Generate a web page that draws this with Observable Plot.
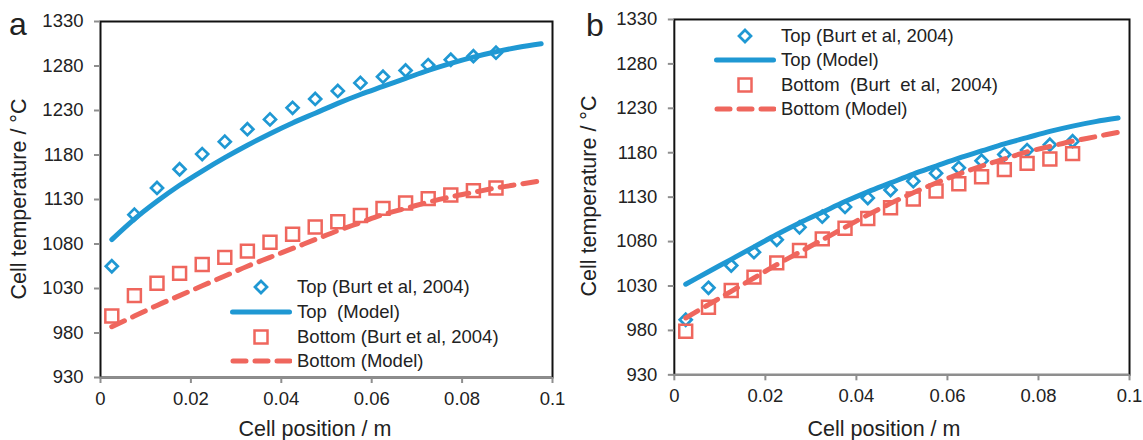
<!DOCTYPE html>
<html>
<head>
<meta charset="utf-8">
<script src="https://cdn.jsdelivr.net/npm/d3@7"></script>
<script src="https://cdn.jsdelivr.net/npm/@observablehq/plot@0.6"></script>
<style>
  body { margin: 0; background: #fff; font-family: "Liberation Sans", Arial, sans-serif; }
  #wrap { position: relative; width: 1143px; height: 440px; overflow: hidden; background: #fff; }
  .panel { position: absolute; top: 0; }
  .letter { position: absolute; font-size: 32px; color: #222; transform: translate(-50%, -50%); }
  .ytitle { position: absolute; font-size: 21.5px; color: #222; white-space: nowrap; transform: translate(-50%, -50%) rotate(-90deg); }
  .xtitle { position: absolute; font-size: 21.5px; color: #222; white-space: nowrap; transform: translate(-50%, -50%); }
  .lrow { position: absolute; display: flex; align-items: center; height: 24px; font-size: 18.5px; color: #222; white-space: pre; }
  .lrow svg { display: block; margin-right: 5px; }
</style>
</head>
<body>
<div id="wrap"></div>
<script>
// ---------- data ----------
const xData = [0.0025, 0.0075, 0.0125, 0.0175, 0.0225, 0.0275, 0.0325, 0.0375, 0.0425,
               0.0475, 0.0525, 0.0575, 0.0625, 0.0675, 0.0725, 0.0775, 0.0825, 0.0875];
const xModel = [0.0025, 0.0075, 0.0125, 0.0175, 0.0225, 0.0275, 0.0325, 0.0375, 0.0425, 0.0475,
                0.0525, 0.0575, 0.0625, 0.0675, 0.0725, 0.0775, 0.0825, 0.0875, 0.0925, 0.0975];

// Panel a
const topBurtA  = [1055, 1113, 1143, 1164, 1181, 1195, 1209, 1220, 1233, 1243, 1252, 1261, 1268, 1275, 1281, 1287, 1291, 1295];
const botBurtA  = [999, 1022, 1036, 1047, 1057, 1065, 1072, 1082, 1091, 1099, 1105, 1112, 1120, 1126, 1131, 1135, 1140, 1143];
const topModelA = [1085, 1108, 1128, 1146, 1162, 1177, 1191, 1204, 1216, 1227, 1238, 1248, 1257, 1266, 1275, 1283, 1290, 1296, 1301, 1305];
const botModelA = [987, 999, 1011, 1022, 1033, 1044, 1055, 1065, 1075, 1085, 1095, 1104, 1113, 1120, 1127, 1133, 1138, 1143, 1147, 1151];

// Panel b
const topBurtB  = [992, 1028, 1053, 1068, 1082, 1096, 1108, 1119, 1129, 1138, 1148, 1157, 1163, 1171, 1178, 1183, 1189, 1193];
const botBurtB  = [979, 1006, 1025, 1040, 1056, 1070, 1083, 1095, 1106, 1118, 1128, 1137, 1145, 1153, 1161, 1168, 1173, 1179];
const topModelB = [1032, 1046, 1060, 1074, 1088, 1101, 1113, 1125, 1136, 1146, 1156, 1165, 1174, 1182, 1190, 1197, 1204, 1210, 1215, 1219];
const botModelB = [994, 1009, 1024, 1039, 1054, 1068, 1082, 1096, 1110, 1123, 1135, 1146, 1156, 1165, 1173, 1181, 1187, 1193, 1198, 1203];

// ticks
const yTicks = [930, 980, 1030, 1080, 1130, 1180, 1230, 1280, 1330];
const xTicks = [0, 0.02, 0.04, 0.06, 0.08, 0.1];
const xTickLabels = ["0", "0.02", "0.04", "0.06", "0.08", "0.1"];

// text
const yTitle = "Cell temperature / °C";
const xTitle = "Cell position / m";
const legendA = ["Top (Burt et al, 2004)", "Top  (Model)", "Bottom (Burt et al, 2004)", "Bottom (Model)"];
const legendB = ["Top (Burt et al, 2004)", "Top (Model)", "Bottom  (Burt  et al,  2004)", "Bottom (Model)"];

const BLUE = "#1f98d3";
const RED = "#ef665d";

function makePanel(o) {
  const dots = xData.map((x, i) => ({x, top: o.topBurt[i], bot: o.botBurt[i]}));
  const model = xModel.map((x, i) => ({x, top: o.topModel[i], bot: o.botModel[i]}));
  return Plot.plot({
    width: 572,
    height: 440,
    marginLeft: o.ml, marginRight: o.mr, marginTop: o.mt, marginBottom: o.mb,
    style: {fontFamily: '"Liberation Sans", Arial, sans-serif', fontSize: "18.5px", color: "#222", background: "transparent", overflow: "visible"},
    x: {domain: [0, 0.1]},
    y: {domain: [930, 1330]},
    marks: [
      Plot.frame({stroke: "#111", strokeWidth: 2}),
      Plot.ruleY([930], {stroke: "#8e8e8e", strokeWidth: 2.2}),
      Plot.axisX({ticks: xTicks, tickFormat: d => xTickLabels[xTicks.indexOf(d)], tickSize: 6, tickPadding: 8,
                  stroke: "#8e8e8e", strokeWidth: 2, fill: "#222", label: null}),
      Plot.axisY({ticks: yTicks, tickFormat: d => String(d), tickSize: 6, tickPadding: 11,
                  stroke: "#8e8e8e", strokeWidth: 2, fill: "#222", label: null}),
      Plot.dot(dots, {x: "x", y: "top", symbol: "diamond2", r: 5.4, stroke: BLUE, strokeWidth: 2.7, fill: "none"}),
      Plot.line(model, {x: "x", y: "top", stroke: BLUE, strokeWidth: 5, curve: "monotone-x", strokeLinecap: "round"}),
      Plot.dot(dots, {x: "x", y: "bot", symbol: "square", r: 7.3, stroke: RED, strokeWidth: 2.5, fill: "none"}),
      Plot.line(model, {x: "x", y: "bot", stroke: RED, strokeWidth: 5, curve: "monotone-x", strokeLinecap: "round", strokeDasharray: "14,9"})
    ]
  });
}

const wrap = document.getElementById("wrap");

function addPanel(left, o) {
  const div = document.createElement("div");
  div.className = "panel";
  div.style.left = left + "px";
  div.appendChild(makePanel(o));
  wrap.appendChild(div);
}

function addText(cls, text, x, y) {
  const d = document.createElement("div");
  d.className = cls;
  d.textContent = text;
  d.style.left = x + "px";
  d.style.top = y + "px";
  wrap.appendChild(d);
}

function legendSymbol(kind) {
  const ns = "http://www.w3.org/2000/svg";
  const svg = document.createElementNS(ns, "svg");
  svg.setAttribute("width", 62);
  svg.setAttribute("height", 24);
  let el;
  if (kind === 0) {
    el = document.createElementNS(ns, "path");
    el.setAttribute("d", "M31,6L37,12L31,18L25,12Z");
    el.setAttribute("fill", "none"); el.setAttribute("stroke", BLUE); el.setAttribute("stroke-width", 2.7);
  } else if (kind === 1) {
    el = document.createElementNS(ns, "line");
    el.setAttribute("x1", 2.5); el.setAttribute("x2", 59.5); el.setAttribute("y1", 12); el.setAttribute("y2", 12);
    el.setAttribute("stroke", BLUE); el.setAttribute("stroke-width", 5); el.setAttribute("stroke-linecap", "round");
  } else if (kind === 2) {
    el = document.createElementNS(ns, "rect");
    el.setAttribute("x", 24.5); el.setAttribute("y", 5.5); el.setAttribute("width", 13); el.setAttribute("height", 13);
    el.setAttribute("fill", "none"); el.setAttribute("stroke", RED); el.setAttribute("stroke-width", 2.5);
  } else {
    el = document.createElementNS(ns, "line");
    el.setAttribute("x1", 3); el.setAttribute("x2", 60); el.setAttribute("y1", 12); el.setAttribute("y2", 12);
    el.setAttribute("stroke", RED); el.setAttribute("stroke-width", 5); el.setAttribute("stroke-linecap", "round");
    el.setAttribute("stroke-dasharray", "13,9");
  }
  svg.appendChild(el);
  return svg;
}

function addLegend(labels, left, rows) {
  labels.forEach((lab, i) => {
    const row = document.createElement("div");
    row.className = "lrow";
    row.style.left = left + "px";
    row.style.top = (rows[i] - 12) + "px";
    row.appendChild(legendSymbol(i));
    const s = document.createElement("span");
    s.textContent = lab;
    row.appendChild(s);
    wrap.appendChild(row);
  });
}

addPanel(0, {topBurt: topBurtA, botBurt: botBurtA, topModel: topModelA, botModel: botModelA, ml: 100, mr: 20, mt: 21, mb: 63});
addPanel(572, {topBurt: topBurtB, botBurt: botBurtB, topModel: topModelB, botModel: botModelB, ml: 102, mr: 14, mt: 19, mb: 65});

addText("letter", "a", 18, 24);
addText("letter", "b", 595, 25);
addText("ytitle", yTitle, 19, 199);
addText("ytitle", yTitle, 589, 196);
addText("xtitle", xTitle, 315, 429);
addText("xtitle", xTitle, 884, 429);

addLegend(legendA, 230, [287, 312, 337, 361]);
addLegend(legendB, 714, [36, 60, 85, 109]);
</script>
</body>
</html>
